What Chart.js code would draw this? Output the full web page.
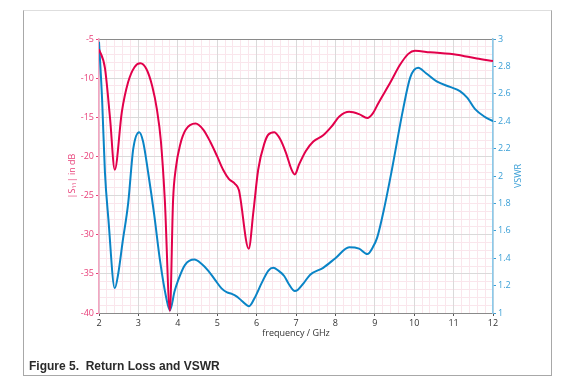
<!DOCTYPE html>
<html>
<head>
<meta charset="utf-8">
<script src="https://cdn.jsdelivr.net/npm/chart.js@4"></script>
<style>
  body { margin: 0; background: #fff; }
  #wrap { position: relative; width: 573px; height: 390px; }
  #frame { position: absolute; left: 23px; top: 10px; width: 527px; height: 364px;
           border-left: 1px solid #a8a8a8; border-right: 1px solid #a8a8a8;
           border-bottom: 1px solid #a8a8a8; border-top: 1px solid #dedede; }
  #caption { position: absolute; left: 29px; top: 359px; font: bold 12px "Liberation Sans", Arial, sans-serif; color: #2a2a2a; white-space: pre; }
  canvas { position: absolute; left: 0; top: 0; }
</style>
</head>
<body>
<div id="wrap">
  <div id="frame"></div>
  <canvas id="chart" width="573" height="390"></canvas>
  <div id="caption">Figure 5.  Return Loss and VSWR</div>
</div>
<script>
// return loss |S11| (dB)
const freqRL = [2.0, 2.15, 2.28, 2.4, 2.58, 2.74, 2.9, 3.05, 3.2, 3.35, 3.47, 3.57, 3.67, 3.8, 3.88, 3.95, 4.06, 4.2, 4.45, 4.65, 4.82, 5.0, 5.15, 5.3, 5.45, 5.55, 5.8, 5.92, 6.04, 6.2, 6.3, 6.45, 6.6, 6.75, 6.88, 6.97, 7.08, 7.25, 7.44, 7.69, 7.9, 8.1, 8.35, 8.6, 8.81, 8.95, 9.09, 9.4, 9.64, 9.85, 10.02, 10.4, 11.08, 11.59, 12.0];
const rlDb = [-6.3, -8.7, -15.1, -21.7, -14.3, -10.5, -8.6, -8.1, -8.8, -11.0, -14.0, -18.0, -25.5, -39.7, -25.6, -21.5, -18.5, -16.6, -15.8, -16.6, -18.1, -20.0, -21.7, -22.9, -23.5, -24.3, -31.8, -27.0, -21.7, -18.3, -17.2, -16.9, -17.8, -19.6, -21.6, -22.3, -21.0, -19.3, -18.1, -17.3, -16.2, -14.9, -14.3, -14.6, -15.1, -14.5, -13.2, -10.5, -8.3, -6.9, -6.5, -6.7, -7.0, -7.5, -7.8];

// VSWR
const freqVswr = [2.0, 2.08, 2.15, 2.24, 2.4, 2.49, 2.6, 2.74, 2.87, 3.02, 3.12, 3.25, 3.4, 3.55, 3.7, 3.8, 3.92, 4.01, 4.18, 4.42, 4.6, 4.77, 4.95, 5.11, 5.25, 5.37, 5.5, 5.62, 5.81, 5.95, 6.13, 6.3, 6.42, 6.55, 6.7, 6.82, 6.97, 7.05, 7.2, 7.36, 7.69, 8.0, 8.35, 8.6, 8.81, 8.95, 9.06, 9.25, 9.43, 9.72, 9.9, 10.1, 10.3, 10.57, 10.91, 11.16, 11.35, 11.54, 11.8, 12.0];
const vswr = [2.98, 2.55, 2.03, 1.68, 1.18, 1.29, 1.52, 1.80, 2.20, 2.32, 2.25, 2.02, 1.72, 1.38, 1.12, 1.02, 1.16, 1.24, 1.35, 1.39, 1.36, 1.31, 1.24, 1.18, 1.15, 1.14, 1.12, 1.09, 1.05, 1.11, 1.22, 1.31, 1.33, 1.31, 1.27, 1.21, 1.16, 1.17, 1.22, 1.28, 1.33, 1.40, 1.48, 1.47, 1.43, 1.48, 1.55, 1.78, 2.04, 2.49, 2.72, 2.79, 2.75, 2.69, 2.65, 2.62, 2.57, 2.49, 2.43, 2.40];

// tick labels
const freqTicks = [2, 3, 4, 5, 6, 7, 8, 9, 10, 11, 12];
const dbTicks = [-40, -35, -30, -25, -20, -15, -10, -5];
const vswrTicks = [1, 1.2, 1.4, 1.6, 1.8, 2, 2.2, 2.4, 2.6, 2.8, 3];

const RED = '#e2004b';
const BLUE = '#0a84c6';
const MINOR = '#fae6ec';
const tickFont = { family: 'Open Sans', size: 9 };

const toXY = (xs, ys) => xs.map((x, i) => ({ x, y: ys[i] }));
const setTicks = arr => scale => { scale.ticks = arr.map(v => ({ value: v })); };
const isWhole = v => Math.abs(v - Math.round(v)) < 1e-6;

// right axis title reads bottom to top like the left one
const vswrTitle = {
    id: 'vswrTitle',
    afterDraw(chart) {
        const c = chart.ctx;
        c.save();
        c.translate(518, (chart.chartArea.top + chart.chartArea.bottom) / 2);
        c.rotate(-Math.PI / 2);
        c.fillStyle = '#3a9fd6';
        c.font = '9px "Open Sans"';
        c.textAlign = 'center';
        c.textBaseline = 'middle';
        c.fillText('VSWR', 0, 0);
        c.restore();
    }
};

new Chart(document.getElementById('chart'), {
    type: 'line',
    data: {
        datasets: [
            { data: toXY(freqRL, rlDb), yAxisID: 'y', borderColor: RED, borderWidth: 2, pointRadius: 0, cubicInterpolationMode: 'monotone', order: 1 },
            { data: toXY(freqVswr, vswr), yAxisID: 'y2', borderColor: BLUE, borderWidth: 2, pointRadius: 0, cubicInterpolationMode: 'monotone', order: 2 }
        ]
    },
    options: {
        responsive: false,
        animation: false,
        layout: { padding: { top: 39, left: 0, right: 0, bottom: 0 } },
        plugins: { legend: { display: false }, tooltip: { enabled: false } },
        scales: {
            xMinor: {
                type: 'linear', position: 'top', min: 2, max: 12,
                ticks: { display: false, stepSize: 0.2 },
                grid: { color: ctx => (isWhole(ctx.tick.value) ? 'rgba(0,0,0,0)' : MINOR), borderDash: [3, 4], drawTicks: false, lineWidth: 1 },
                border: { display: true, color: '#8a8a8a', width: 1 },
                afterFit: s => { s.height = 0; }
            },
            yMinor: {
                type: 'linear', position: 'left', min: -40, max: -5,
                ticks: { display: false, stepSize: 1 },
                grid: { color: ctx => (ctx.tick.value % 5 === 0 ? 'rgba(0,0,0,0)' : MINOR), borderDash: [3, 4], drawTicks: false },
                border: { display: false },
                afterFit: s => { s.width = 0; }
            },
            x: {
                type: 'linear', min: 2, max: 12,
                afterBuildTicks: setTicks(freqTicks),
                ticks: { color: '#333', font: tickFont, padding: 2 },
                grid: { color: '#dadada', tickLength: 3, tickColor: '#555' },
                border: { color: '#8a8a8a' },
                title: { display: true, text: 'frequency / GHz', color: '#333', font: { family: 'Open Sans', size: 9 }, padding: { top: 0, bottom: 51 } },
                afterFit: s => { s.height = 77; }
            },
            y: {
                type: 'linear', position: 'left', min: -40, max: -5,
                afterBuildTicks: setTicks(dbTicks),
                ticks: { color: '#e8417a', font: tickFont, padding: 2 },
                grid: { color: '#dadada', tickLength: 3, tickColor: '#e8417a' },
                border: { color: '#f3a6c2', width: 1.5 },
                title: { display: true, text: '|S₁₁| in dB', color: '#e8417a', font: { family: 'Open Sans', size: 9 }, padding: { top: 67, bottom: 0 } },
                afterFit: s => { s.width = 99; }
            },
            y2: {
                type: 'linear', position: 'right', min: 1, max: 3,
                afterBuildTicks: setTicks(vswrTicks),
                ticks: { color: '#3a9fd6', font: tickFont, padding: 2, callback: v => String(Math.round(v * 10) / 10) },
                grid: { drawOnChartArea: false, tickLength: 3, tickColor: '#3a9fd6' },
                border: { color: '#8ccaeb', width: 1.5 },
                afterFit: s => { s.width = 80; }
            }
        }
    },
    plugins: [vswrTitle]
});
</script>
</body>
</html>
